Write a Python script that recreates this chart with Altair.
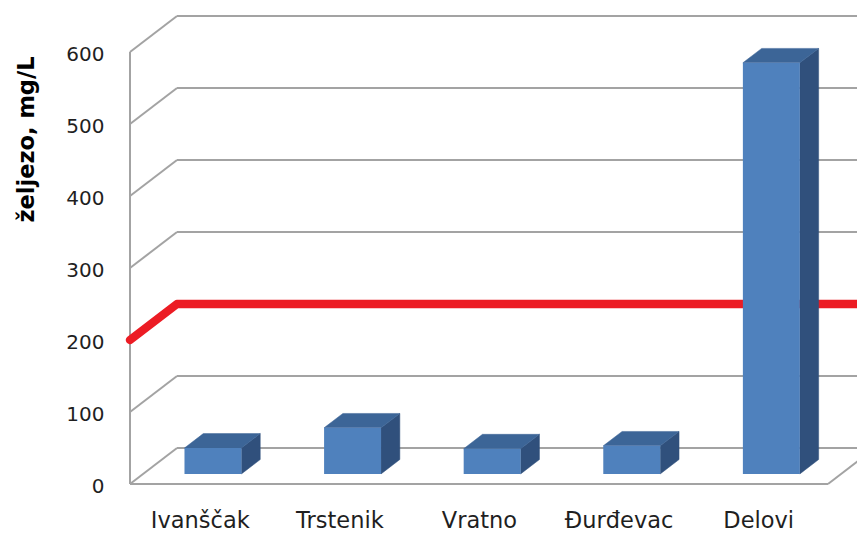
import json
import altair as alt
import pandas as pd

# ---- data ----
categories = ["Ivanščak", "Trstenik", "Vratno", "Đurđevac", "Delovi"]
iron_mg_l = [36, 64, 35, 39, 571]
limit_mg_l = 200
y_ticks = [0, 100, 200, 300, 400, 500, 600]

# ---- 3D projection (style) constants, in data units ----
DX, DY = 0.3367, 50.0        # shift for the full depth of the plot box
D_FRONT, D_DEPTH = 0.28, 0.40  # bar front depth and bar thickness (fractions of depth)
HALF_W = 0.204
PLOT_W, PLOT_H = 727, 469
X_MAX = PLOT_W / 139.6
Y_MAX = PLOT_H / 0.72

FRONT, TOP, SIDE = "#4f81bd", "#3c6597", "#30507c"
GRID = "#a3a3a3"
RED = "#ec1c24"
FONT = "DejaVu Sans"

xs = alt.Scale(domain=[0, X_MAX], nice=False, zero=False)
ys = alt.Scale(domain=[0, Y_MAX], nice=False, zero=False)

front_rows, side_rows, top_rows = [], [], []
for i, (c, v) in enumerate(zip(categories, iron_mg_l)):
    cx = i + 0.5 + D_FRONT * DX
    base = D_FRONT * DY
    xl, xr = cx - HALF_W, cx + HALF_W
    top = base + v
    ddx, ddy = D_DEPTH * DX, D_DEPTH * DY
    front_rows.append(dict(cat=c, x=xl, x2=xr, y=base, y2=top))
    side_rows += [dict(cat=c, x=xr, y=base, y2=top),
                  dict(cat=c, x=xr + ddx, y=base + ddy, y2=top + ddy)]
    top_rows += [dict(cat=c, y=top, x=xl, x2=xr),
                 dict(cat=c, y=top + ddy, x=xl + ddx, x2=xr + ddx)]

grid_rows = []
for t in y_ticks:
    grid_rows.append(dict(x=DX, x2=X_MAX + 0.2, y=t + DY, y2=t + DY))   # back wall
    grid_rows.append(dict(x=0, x2=DX, y=t, y2=t + DY))                  # side wall
n = len(categories)
grid_rows.append(dict(x=0, x2=0, y=0, y2=y_ticks[-1]))            # front left edge
grid_rows.append(dict(x=0, x2=n, y=0, y2=0))                      # floor front edge
grid_rows.append(dict(x=n, x2=n + DX, y=0, y2=DY))                # floor right edge

limit_rows = [dict(o=0, x=0, y=limit_mg_l),
              dict(o=1, x=DX, y=limit_mg_l + DY),
              dict(o=2, x=X_MAX + 0.2, y=limit_mg_l + DY)]

label_expr = json.dumps(categories, ensure_ascii=False) + "[floor(datum.value)]"

grid = alt.Chart(pd.DataFrame(grid_rows)).mark_rule(color=GRID, strokeWidth=2).encode(
    x=alt.X("x:Q", scale=xs, axis=None),
    x2="x2:Q",
    y=alt.Y("y:Q", scale=ys, axis=alt.Axis(
        values=y_ticks, domain=False, ticks=False, tickSize=0, grid=False,
        labelPadding=26, labelOffset=2, labelFont=FONT, labelFontSize=20,
        labelColor="#1f1f1f",
        title="željezo, mg/L", titleFont=FONT, titleFontSize=22.5,
        titleFontWeight="bold", titleColor="#000000", titleAngle=270,
        titleX=-104, titleY=124, titleAlign="center", titleBaseline="middle")),
    y2="y2:Q",
)

limit = alt.Chart(pd.DataFrame(limit_rows)).mark_line(
    color=RED, strokeWidth=8.5, strokeCap="round", strokeJoin="round").encode(
    x=alt.X("x:Q", scale=xs, axis=None),
    y=alt.Y("y:Q", scale=ys, axis=None),
    order="o:Q",
)

sides = alt.Chart(pd.DataFrame(side_rows)).mark_area(
    orient="vertical", color=SIDE, stroke=SIDE, strokeWidth=0.5, opacity=1).encode(
    x=alt.X("x:Q", scale=xs, axis=None),
    y=alt.Y("y:Q", scale=ys, axis=None),
    y2="y2:Q",
    detail="cat:N",
)

tops = alt.Chart(pd.DataFrame(top_rows)).mark_area(
    orient="horizontal", color=TOP, stroke=TOP, strokeWidth=0.5, opacity=1).encode(
    y=alt.Y("y:Q", scale=ys, axis=None),
    x=alt.X("x:Q", scale=xs, axis=None),
    x2="x2:Q",
    detail="cat:N",
)

fronts = alt.Chart(pd.DataFrame(front_rows)).mark_rect(color=FRONT, opacity=1).encode(
    x=alt.X("x:Q", scale=xs, axis=alt.Axis(
        values=[i + 0.5 for i in range(n)], labelExpr=label_expr,
        domain=False, ticks=False, tickSize=0, grid=False,
        labelPadding=43, labelBaseline="alphabetic", labelFont=FONT,
        labelFontSize=22.5, labelColor="#1f1f1f", labelFlush=False,
        labelOverlap=False, title=None)),
    x2="x2:Q",
    y=alt.Y("y:Q", scale=ys, axis=None),
    y2="y2:Q",
)

chart = alt.layer(grid, limit, sides, tops, fronts).resolve_axis(
    x="independent", y="independent"
).properties(
    width=PLOT_W, height=PLOT_H,
    autosize=alt.AutoSizeParams(type="none"),
    padding={"left": 122, "top": 7, "right": 0, "bottom": 50},
    background="white",
).configure_view(strokeWidth=0)

chart.save("out.html", embed_options={"renderer": "svg", "actions": False})
